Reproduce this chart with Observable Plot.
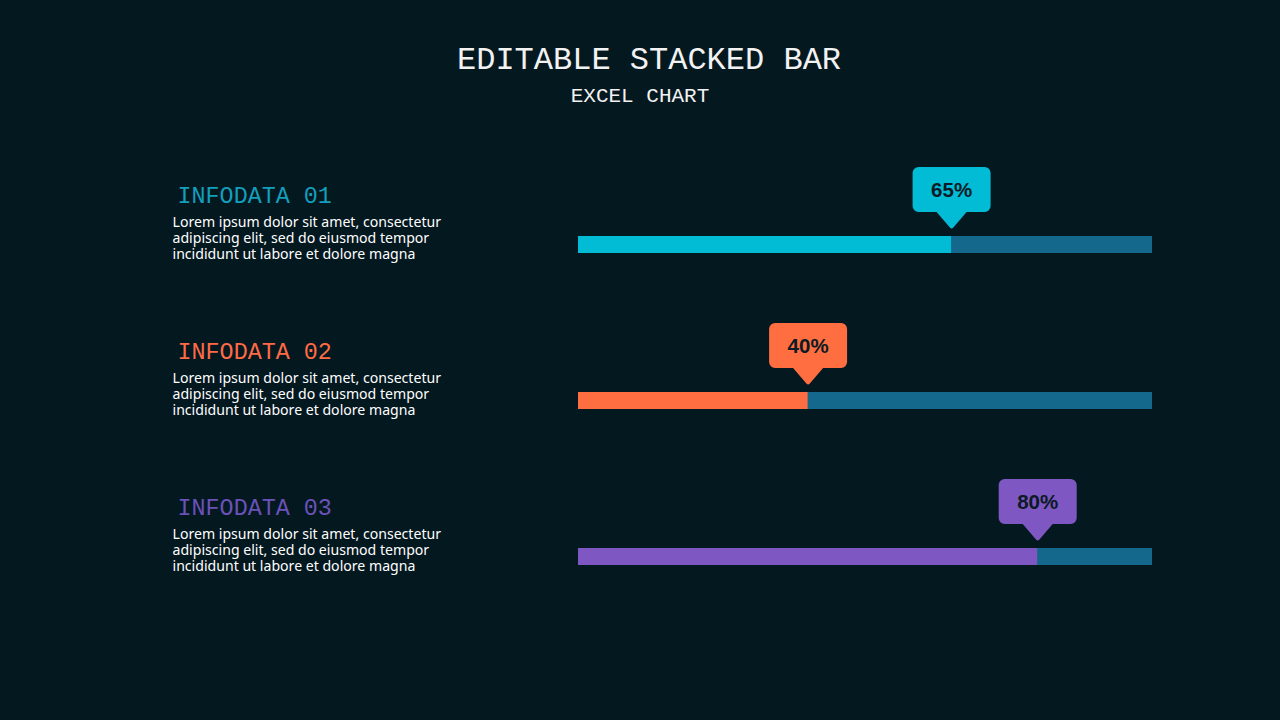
<!DOCTYPE html>
<html>
<head>
<meta charset="utf-8">
<script src="https://cdn.jsdelivr.net/npm/d3@7"></script>
<script src="https://cdn.jsdelivr.net/npm/@observablehq/plot@0.6"></script>
<style>
  html, body { margin: 0; padding: 0; background: #041820; width: 1280px; height: 720px; overflow: hidden; }
  #header { position: relative; height: 130px; width: 1280px; }
  #title { position: absolute; left: 0; width: 1280px; top: 45px; text-align: center; padding-left: 18px; box-sizing: border-box;
           font-family: "Liberation Mono", "Courier New", monospace; font-size: 32px; line-height: 32px; color: #f2f2f2; }
  #subtitle { position: absolute; left: 0; width: 1280px; top: 86px; text-align: center;
           font-family: "Liberation Mono", "Courier New", monospace; font-size: 21px; line-height: 21px; color: #f2f2f2; }
  #chart svg { display: block; }
</style>
</head>
<body>
<div id="header">
  <div id="title">EDITABLE STACKED BAR</div>
  <div id="subtitle">EXCEL CHART</div>
</div>
<div id="chart"></div>
<script>
const categories = ["INFODATA 01", "INFODATA 02", "INFODATA 03"];
const values = [65, 40, 80];
const barColors = ["#02bbd5", "#ff6e40", "#7e57c2"];
const labelColors = ["#139fbb", "#ff6b45", "#6b52b8"];
const trackColor = "#13688c";
const descriptions = [
  "Lorem ipsum dolor sit amet, consectetur\nadipiscing elit, sed do eiusmod tempor\nincididunt ut labore et dolore magna",
  "Lorem ipsum dolor sit amet, consectetur\nadipiscing elit, sed do eiusmod tempor\nincididunt ut labore et dolore magna",
  "Lorem ipsum dolor sit amet, consectetur\nadipiscing elit, sed do eiusmod tempor\nincididunt ut labore et dolore magna"
];

const rows = categories.map((c, i) => ({
  cat: c, value: values[i], color: barColors[i], labelColor: labelColors[i], desc: descriptions[i]
}));

// callout bubble symbol: rounded box with a downward pointer; origin = bar centre
const callout = {
  draw(ctx) {
    const w = 39, top = -77.5, bot = -32.5, r = 6, tw = 15, tip = -15.5;
    ctx.moveTo(-w + r, top);
    ctx.lineTo(w - r, top);
    ctx.arcTo(w, top, w, top + r, r);
    ctx.lineTo(w, bot - r);
    ctx.arcTo(w, bot, w - r, bot, r);
    ctx.lineTo(tw, bot);
    ctx.lineTo(1.5, tip - 1.2);
    ctx.quadraticCurveTo(0, tip, -1.5, tip - 1.2);
    ctx.lineTo(-tw, bot);
    ctx.lineTo(-w + r, bot);
    ctx.arcTo(-w, bot, -w, bot - r, r);
    ctx.lineTo(-w, top + r);
    ctx.arcTo(-w, top, -w + r, top, r);
    ctx.closePath();
  }
};

const chart = Plot.plot({
  width: 1280,
  height: 590,
  margin: 0,
  style: { background: "transparent", overflow: "visible" },
  x: { domain: [0, 100], range: [578, 1152], axis: null },
  y: { type: "point", domain: categories, range: [114, 426.5], padding: 0, axis: null },
  marks: [
    Plot.ruleY(rows, { y: "cat", x1: 0, x2: 100, stroke: trackColor, strokeWidth: 17, strokeLinecap: "butt" }),
    Plot.ruleY(rows, { y: "cat", x1: 0, x2: "value", stroke: "color", strokeWidth: 17, strokeLinecap: "butt" }),
    Plot.dot(rows, { x: "value", y: "cat", symbol: callout, fill: "color", stroke: null, r: 10 }),
    Plot.text(rows, { x: "value", y: "cat", text: d => d.value + "%", dy: -54,
      fill: "#0b1a24", fontSize: 20.5, fontWeight: "bold", fontFamily: "Liberation Sans, Arial, sans-serif" }),
    Plot.text(rows, { y: "cat", text: "cat", frameAnchor: "left", dx: 177, dy: -49.5, textAnchor: "start",
      fill: "labelColor", fontSize: 23.4, fontFamily: "Liberation Mono, Courier New, monospace" }),
    Plot.text(rows, { y: "cat", text: "desc", frameAnchor: "left", dx: 172, dy: -6.5, textAnchor: "start",
      lineHeight: 1.135, fill: "#ffffff", fontSize: 14.1, fontFamily: "Noto Sans, sans-serif" })
  ]
});
document.getElementById("chart").appendChild(chart);
</script>
</body>
</html>
